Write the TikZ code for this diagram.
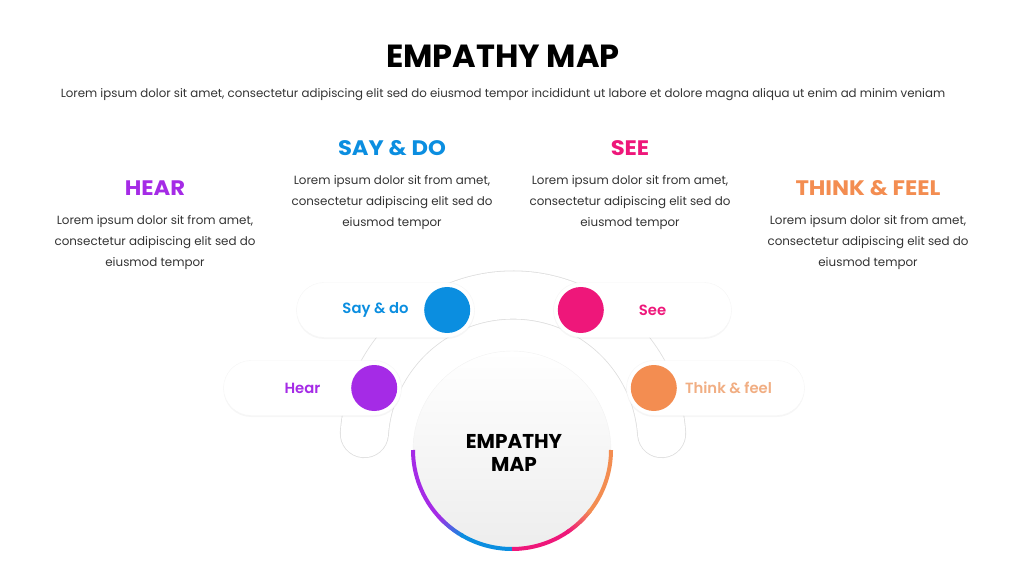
\documentclass[tikz,border=0pt]{standalone}
\usepackage{fontspec}
\setmainfont{Poppins}
\newfontfamily\semifont{Poppins SemiBold}
\newfontfamily\headfont{Poppins}[FakeStretch=1.08]
\usepackage{tikz}
\usetikzlibrary{positioning,shadows}

\definecolor{hearcol}{HTML}{A52BE6}
\definecolor{saycol}{HTML}{0B8EE0}
\definecolor{seecol}{HTML}{EE177A}
\definecolor{thinkcol}{HTML}{F38D51}
\definecolor{bodycol}{HTML}{333333}

\begin{document}
\begin{tikzpicture}[x=1pt,y=1pt,
	heading/.style={font=\headfont\bfseries\fontsize{21}{24}\selectfont},
	body/.style={align=center, text=bodycol, font=\fontsize{11.9}{21}\selectfont},
	pill/.style={fill=white, draw=black!4, rounded corners=27.5pt,
		minimum width=178pt, minimum height=55pt,
		drop shadow={opacity=0.07, shadow xshift=0pt, shadow yshift=-1.5pt}},
	dot/.style={circle, minimum size=46pt, inner sep=0pt},
	pilltext/.style={font=\semifont\fontsize{14.8}{16}\selectfont},
	ring/.style={line width=4pt}
	]
	\useasboundingbox (0,0) rectangle (1024,576);

	% title and intro
	\node[font=\bfseries\fontsize{32}{36}\selectfont] (title) at (503,520) {EMPATHY MAP};
	\node[text=bodycol, font=\fontsize{11.8}{13}\selectfont] (intro) at (503,481)
		{Lorem ipsum dolor sit amet, consectetur adipiscing elit sed do eiusmod tempor incididunt ut labore et dolore magna aliqua ut enim ad minim veniam};

	% four headings
	\node[heading, text=hearcol]  (hear)  at (155,388) {HEAR};
	\node[heading, text=saycol]   (say)   at (392,428) {SAY \& DO};
	\node[heading, text=seecol]   (see)   at (630,428) {SEE};
	\node[heading, text=thinkcol] (think) at (868,388) {THINK \& FEEL};
	\node[body] (heartext)  at (155,333) {Lorem ipsum dolor sit from amet,\\consectetur adipiscing elit sed do\\eiusmod tempor};
	\node[body] (saytext)   at (392,373) {Lorem ipsum dolor sit from amet,\\consectetur adipiscing elit sed do\\eiusmod tempor};
	\node[body] (seetext)   at (630,373) {Lorem ipsum dolor sit from amet,\\consectetur adipiscing elit sed do\\eiusmod tempor};
	\node[body] (thinktext) at (868,333) {Lorem ipsum dolor sit from amet,\\consectetur adipiscing elit sed do\\eiusmod tempor};

	% band behind the pills
	\coordinate (hub) at (513,132);
	\draw[line width=49pt, line cap=round, black!13]
		([shift={(4:149pt)}]hub) arc[start angle=4, end angle=176, radius=149pt];
	\draw[line width=47.4pt, line cap=round, white]
		([shift={(4:149pt)}]hub) arc[start angle=4, end angle=176, radius=149pt];

	% pills
	\node[pill] (saypill)   at (385.5,266) {};
	\node[pill] (seepill)   at (642.5,266) {};
	\node[pill] (hearpill)  at (312.5,188) {};
	\node[pill] (thinkpill) at (715.5,188) {};
	\node[dot, fill=saycol]   (saydot)   at ([xshift=-27.5pt]saypill.east) {};
	\node[dot, fill=seecol]   (seedot)   at ([xshift=27.5pt]seepill.west) {};
	\node[dot, fill=hearcol]  (heardot)  at ([xshift=-27.5pt]hearpill.east) {};
	\node[dot, fill=thinkcol] (thinkdot) at ([xshift=27.5pt]thinkpill.west) {};
	\node[pilltext, text=saycol]   (saylabel)   at ([xshift=-10pt]saypill.center) {Say \& do};
	\node[pilltext, text=seecol]   (seelabel)   at ([xshift=10pt]seepill.center) {See};
	\node[pilltext, text=hearcol]  (hearlabel)  at ([xshift=-10pt]hearpill.center) {Hear};
	\node[pilltext, text=thinkcol!85!brown!70] (thinklabel) at ([xshift=13pt]thinkpill.center) {Think \& feel};

	% centre circle
	\node[circle, minimum size=198pt, inner sep=0pt, outer sep=0pt, draw=black!5,
		top color=white, bottom color=black!7] (core) at (512,126) {};
	\node[align=center, font=\bfseries\fontsize{20}{23}\selectfont] (coretext) at (514,123) {EMPATHY\\MAP};

	% coloured ring
	\draw[ring, hearcol] ([shift={(180:99pt)}]core.center) arc[start angle=180, end angle=223, radius=99pt];
	\foreach \p in {0,5,...,95}
		\draw[ring, saycol!\p!hearcol] ([shift={(222+0.18*\p:99pt)}]core.center) arc[start angle=222+0.18*\p, delta angle=1.2, radius=99pt];
	\draw[ring, saycol] ([shift={(239:99pt)}]core.center) arc[start angle=239, end angle=270, radius=99pt];
	\draw[ring, seecol] ([shift={(270:99pt)}]core.center) arc[start angle=270, end angle=305, radius=99pt];
	\foreach \p in {0,5,...,95}
		\draw[ring, thinkcol!\p!seecol] ([shift={(304+0.18*\p:99pt)}]core.center) arc[start angle=304+0.18*\p, delta angle=1.2, radius=99pt];
	\draw[ring, thinkcol] ([shift={(321:99pt)}]core.center) arc[start angle=321, end angle=360, radius=99pt];
\end{tikzpicture}
\end{document}
